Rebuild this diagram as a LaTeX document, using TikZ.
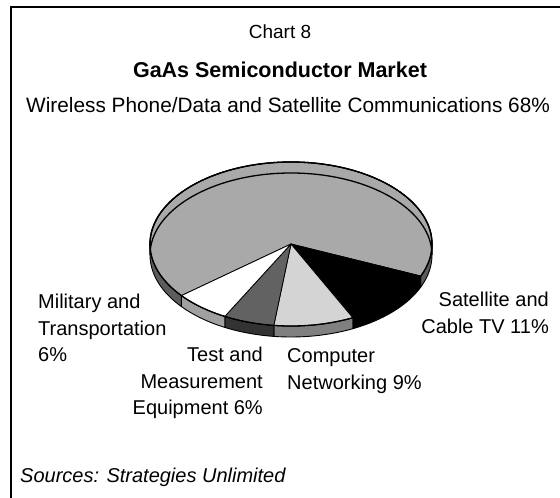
\documentclass[tikz,border=0pt]{standalone}
\usepackage{fontspec}
\setmainfont{Liberation Sans}
\definecolor{bigtop}{HTML}{A9A9A9}
\definecolor{bigside}{HTML}{5C5C5C}
\definecolor{lighttop}{HTML}{D4D4D4}
\definecolor{lightside}{HTML}{808080}
\definecolor{darktop}{HTML}{626262}
\definecolor{darkside}{HTML}{333333}
\definecolor{whiteside}{HTML}{A0A0A0}
\tikzset{
  lbl/.style={inner sep=0pt, font=\fontsize{20}{26.5}\selectfont},
  side/.style={draw=black, line width=0.9pt, line join=round},
  topface/.style={draw=black, line width=0.8pt, line join=round},
}
\newcommand{\pieside}[3]{%
  \filldraw[side, fill=#3] ([shift={(#1:141 and 82)}]291,244)
    arc[start angle=#1, end angle=#2, x radius=141, y radius=82]
    -- ++(0,11)
    arc[start angle=#2, end angle=#1, x radius=141, y radius=82] -- cycle;}
\newcommand{\pietop}[3]{%
  \filldraw[topface, fill=#3] (291,244) -- ([shift={(#1:141 and 82)}]291,244)
    arc[start angle=#1, end angle=#2, x radius=141, y radius=82] -- cycle;}
\begin{document}
\begin{tikzpicture}[x=1pt,y=-1pt]
\useasboundingbox (0,0) rectangle (560,498);
\fill[white] (0,0) rectangle (560,498);
\draw[line width=1.6pt] (11,498) -- (11,7) -- (560,7);
% sides
\pieside{0}{23}{bigside}
\pieside{23}{64}{black}
\pieside{64}{97}{lightside}
\pieside{97}{118}{darkside}
\pieside{118}{141}{whiteside}
\pieside{141}{180}{bigside}
% tops
\pietop{141}{383}{bigtop}
\pietop{23}{64}{black}
\pietop{64}{97}{lighttop}
\pietop{97}{118}{darktop}
\pietop{118}{141}{white}
\draw[line width=1.3pt] (150,244) arc[start angle=180, end angle=360, x radius=141, y radius=82]
  -- ++(0,11) arc[start angle=360, end angle=180, x radius=141, y radius=82] -- cycle;
\draw[line width=1.3pt] (150,244) arc[start angle=180, end angle=-180, x radius=141, y radius=82];
% texts
\node[inner sep=0pt, font=\fontsize{19}{22}\selectfont] (chart) at (280,32) {Chart 8};
\node[inner sep=0pt, font=\fontsize{21.5}{25}\selectfont\bfseries] (title) at (280,70) {GaAs Semiconductor Market};
\node[inner sep=0pt, anchor=west, font=\fontsize{20.8}{26}\selectfont] (wireless) at (26,105) {Wireless Phone/Data and Satellite Communications 68\%};
\node[lbl, anchor=west, align=left] (military) at (38,328) {Military and\\Transportation\\6\%};
\node[lbl, anchor=east, align=right] (test) at (263,383) {Test and\\Measurement\\Equipment 6\%};
\node[lbl, anchor=west, align=left] (computer) at (287,371) {Computer\\Networking 9\%};
\node[lbl, anchor=east, align=right] (satellite) at (549,313) {Satellite and\\Cable TV 11\%};
\node[lbl, anchor=west, font=\fontsize{20}{26}\selectfont\itshape] (sources) at (20,477) {Sources: Strategies Unlimited};
\end{tikzpicture}
\end{document}
